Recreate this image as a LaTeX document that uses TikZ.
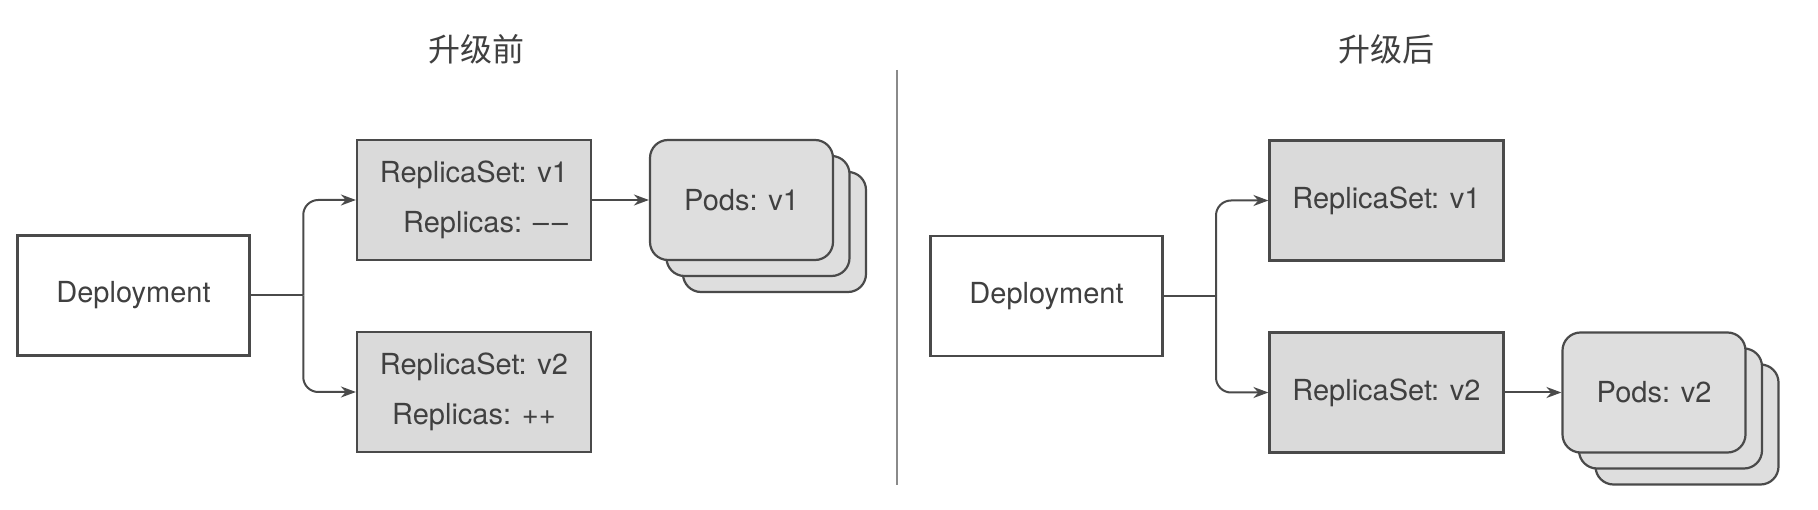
\documentclass[tikz,border=0pt]{standalone}
\usepackage{fontspec}
\setmainfont{TeX Gyre Heros}
\newfontfamily\cjk{Noto Sans CJK SC}
\usetikzlibrary{arrows.meta,positioning,calc}
\definecolor{inkgray}{HTML}{404040}
\definecolor{linegray}{HTML}{4A4A4A}
\definecolor{boxgray}{HTML}{DADADA}
\definecolor{podgray}{HTML}{DEDEDE}
\definecolor{divgray}{HTML}{8A8A8A}

\begin{document}
\begin{tikzpicture}[x=1pt, y=-1pt, >={Stealth[length=15pt,width=11pt]}, font=\fontsize{29}{50}\selectfont, text=inkgray, depstyle/.style={rectangle, draw=linegray, line width=2.2pt, fill=white, minimum width=232pt, minimum height=120pt, inner sep=0pt, align=center}, rsstyle/.style={depstyle, fill=boxgray, minimum width=234pt}, podstyle/.style={rectangle, rounded corners=18pt, draw=linegray, line width=2.2pt, fill=podgray, minimum width=183pt, minimum height=120pt, inner sep=0pt}, pil/.style={->, line width=2pt, draw=linegray, rounded corners=15pt}, lin/.style={line width=2pt, draw=linegray}, titlestyle/.style={font=\cjk\fontsize{32}{32}\selectfont}]
	 \useasboundingbox[fill=white] (0,0) rectangle (1818,510);
	 % before
	 \node[titlestyle] (titleL) at (476,49) {升级前};
	 \node[depstyle] (depL) at (133.5,295.5) {Deployment};
	 \node[rsstyle, align=right] (rs1L) at (474,200) {ReplicaSet: v1\\Replicas: –\hspace{3pt}–};
	 \node[rsstyle] (rs2L) at (474,392) {ReplicaSet: v2\\Replicas: ++};
	 \node[podstyle] (pods1c) at (774.5,232) {};
	 \node[podstyle] (pods1b) at (758,216) {};
	 \node[podstyle] (pods1) at (741.5,200) {Pods: v1};
	 \coordinate (splitL) at ($(depL.east)!.5!(rs1L.west |- depL.east)$);
	 \draw[lin] (depL.east) -- (splitL);
	 \draw[pil] (splitL) |- (rs1L.west);
	 \draw[pil] (splitL) |- (rs2L.west);
	 \draw[pil] (rs1L.east) -- (pods1.west);
	 % divider
	 \coordinate (divtop) at (897,70);
	 \coordinate (divbot) at (897,485);
	 \draw[line width=1.6pt, divgray] (divtop) -- (divbot);
	 % after
	 \node[titlestyle] (titleR) at (1386,49) {升级后};
	 \node[depstyle] (depR) at (1046.5,296) {Deployment};
	 \node[rsstyle] (rs1R) at (1386.5,200.5) {ReplicaSet: v1};
	 \node[rsstyle] (rs2R) at (1386.5,392.5) {ReplicaSet: v2};
	 \node[podstyle] (pods2c) at (1687,424.5) {};
	 \node[podstyle] (pods2b) at (1670.5,408.5) {};
	 \node[podstyle] (pods2) at (1654,392.5) {Pods: v2};
	 \coordinate (splitR) at ($(depR.east)!.5!(rs1R.west |- depR.east)$);
	 \draw[lin] (depR.east) -- (splitR);
	 \draw[pil] (splitR) |- (rs1R.west);
	 \draw[pil] (splitR) |- (rs2R.west);
	 \draw[pil] (rs2R.east) -- (pods2.west);
	\end{tikzpicture}
\end{document}
